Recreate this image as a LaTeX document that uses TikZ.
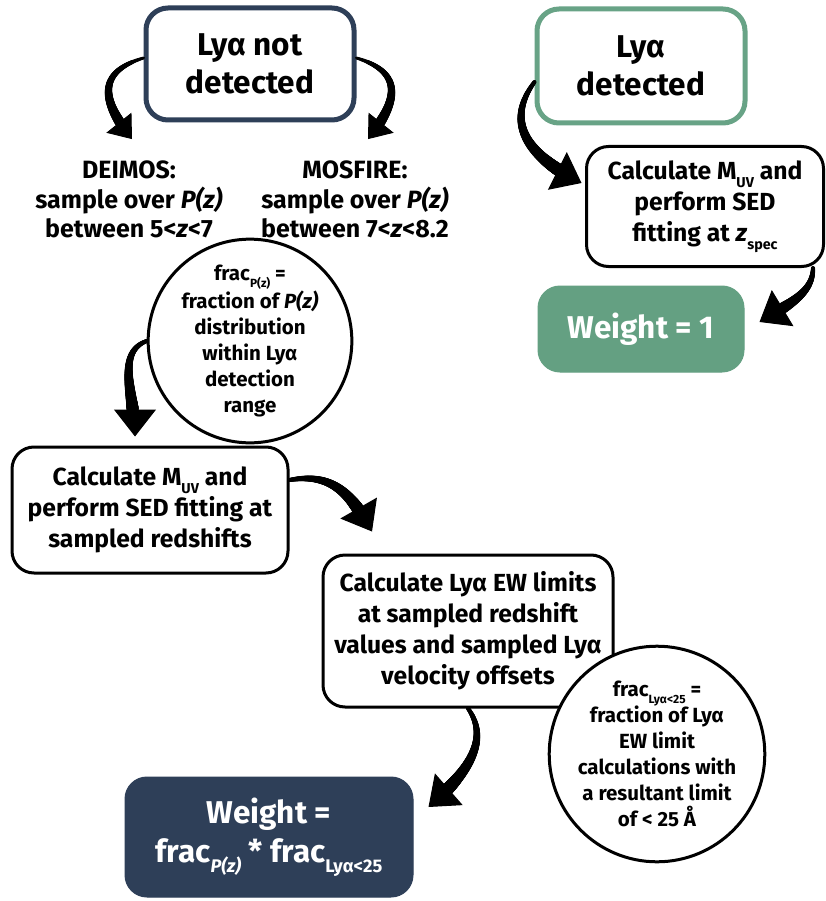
\documentclass[tikz,border=0pt]{standalone}
\usepackage{fontspec}
\setmainfont{Fira Sans}[BoldFont={Fira Sans Bold},BoldItalicFont={Fira Sans Bold Italic}]
\usetikzlibrary{arrows.meta,decorations.markings}
\definecolor{navy}{RGB}{46,63,88}
\definecolor{sage}{RGB}{100,160,130}
\definecolor{sageline}{RGB}{104,163,134}
\newcommand\sbs[1]{\raisebox{-0.32em}{\scalebox{0.58}{#1}}}
\begin{document}
\begin{tikzpicture}[x=1pt,y=-1pt,
  fbig/.style={font=\fontsize{31.5}{38}\selectfont\bfseries},
  fmid/.style={font=\fontsize{24.7}{31}\selectfont\bfseries},
  fdm/.style={font=\fontsize{25}{29.5}\selectfont\bfseries},
  fsml/.style={font=\fontsize{20.5}{26}\selectfont\bfseries},
  fwt/.style={font=\fontsize{31.5}{39}\selectfont\bfseries},
  rbox/.style={draw, rounded corners=22pt, align=center, inner sep=0pt, fill=white},
  thinbox/.style={rbox, line width=3pt, fmid},
  circ/.style={circle, draw, line width=3pt, fill=white, inner sep=0pt, align=center, minimum size=#1, fsml},
  plain/.style={align=center, inner sep=0pt, fdm},
  tap/.style n args={4}{line width=1pt, -{Triangle[width=#3,length=#4]},
    postaction={decorate, decoration={markings,
      mark=between positions 0 and -#4 step 0.5pt with {%
        \pgfmathsetmacro\rr{#1+(#2-#1)*\pgfkeysvalueof{/pgf/decoration/mark info/distance from start}/\pgfdecoratedpathlength}%
        \fill (0,0) circle[radius=\rr pt];}}}},
  small arr/.style={tap={1.5}{6}{32pt}{21pt}},
  big arr/.style={tap={2}{7.5}{42pt}{27pt}}
]
\fill[white] (0,0) rectangle (826,901);
\useasboundingbox (0,0) rectangle (826,901);

% nodes
\node[rbox, draw=navy, line width=5pt, minimum width=208pt, minimum height=112pt, fbig] (notdet) at (250,64) {Lyα not\\detected};
\node[rbox, draw=sageline, line width=5pt, minimum width=208pt, minimum height=114pt, fbig] (det) at (641,66) {Lyα\\detected};
\node[plain] (deimos) at (129,199.5) {DEIMOS:\\sample over \textit{P(z)}\\between 5<\textit{z}<7};
\node[plain] (mosfire) at (355,199.5) {MOSFIRE:\\sample over \textit{P(z)}\\between 7<\textit{z}<8.2};
\node[thinbox, minimum width=237pt, minimum height=120pt] (rcalc) at (705,206.5) {Calculate M\sbs{UV} and\\perform SED\\fitting at \textit{z}\sbs{spec}};
\node[rbox, draw=sage, fill=sage, line width=1pt, minimum width=206pt, minimum height=86pt, fwt, text=white] (w1) at (641,329) {Weight = 1};
\node[circ=192pt] (c1) at (250,341) {frac\sbs{P(z)} =\\fraction of \textit{P(z)}\\distribution\\within Lyα\\detection\\range};
\node[thinbox, minimum width=276pt, minimum height=126pt] (lcalc) at (150,510) {Calculate M\sbs{UV} and\\perform SED fitting at\\sampled redshifts};
\node[thinbox, minimum width=290pt, minimum height=152pt] (ew) at (468,631) {Calculate Lyα EW limits\\at sampled redshift\\values and sampled Lyα\\velocity offsets};
\node[circ=197pt] (c2) at (657,754) {frac\sbs{Lyα<25} =\\fraction of Lyα\\EW limit\\calculations with\\a resultant limit\\of < 25 Å};
\node[rbox, draw=navy, fill=navy, line width=1pt, minimum width=288pt, minimum height=120pt, fwt, text=white] (wnav) at (269,837) {Weight =\\frac\sbs{\textit{P(z)}} * frac\sbs{Lyα<25}};

% arrows
\draw[small arr] ([yshift=6pt]notdet.west) .. controls +(-50,15) and +(-28,-35) .. ([xshift=3pt,yshift=21.6pt]deimos.north);
\draw[small arr] ([yshift=6pt]notdet.east) .. controls +(50,15) and +(28,-35) .. ([xshift=13pt,yshift=21.6pt]mosfire.north);
\draw[big arr] ([yshift=-16pt]det.west) .. controls +(-32,43) and +(-50,-25) .. ([xshift=-3.5pt,yshift=23.5pt]rcalc.west);
\draw[big arr] ([xshift=-12pt]rcalc.south east) .. controls +(0,25) and +(30,-18) .. ([xshift=15pt,yshift=7pt]w1.east);
\draw[big arr] (c1.west) .. controls +(-32,12) and +(0,-40) .. ([xshift=-15pt,yshift=9pt]lcalc.north);
\draw[big arr] ([yshift=30pt]lcalc.east) .. controls +(45,-8) and +(-20,-35) .. ([xshift=-96pt,yshift=22pt]ew.north);
\draw[big arr] (ew.south) .. controls +(25,35) and +(32,-28) .. ([xshift=15pt,yshift=30pt]wnav.east);
\end{tikzpicture}
\end{document}
